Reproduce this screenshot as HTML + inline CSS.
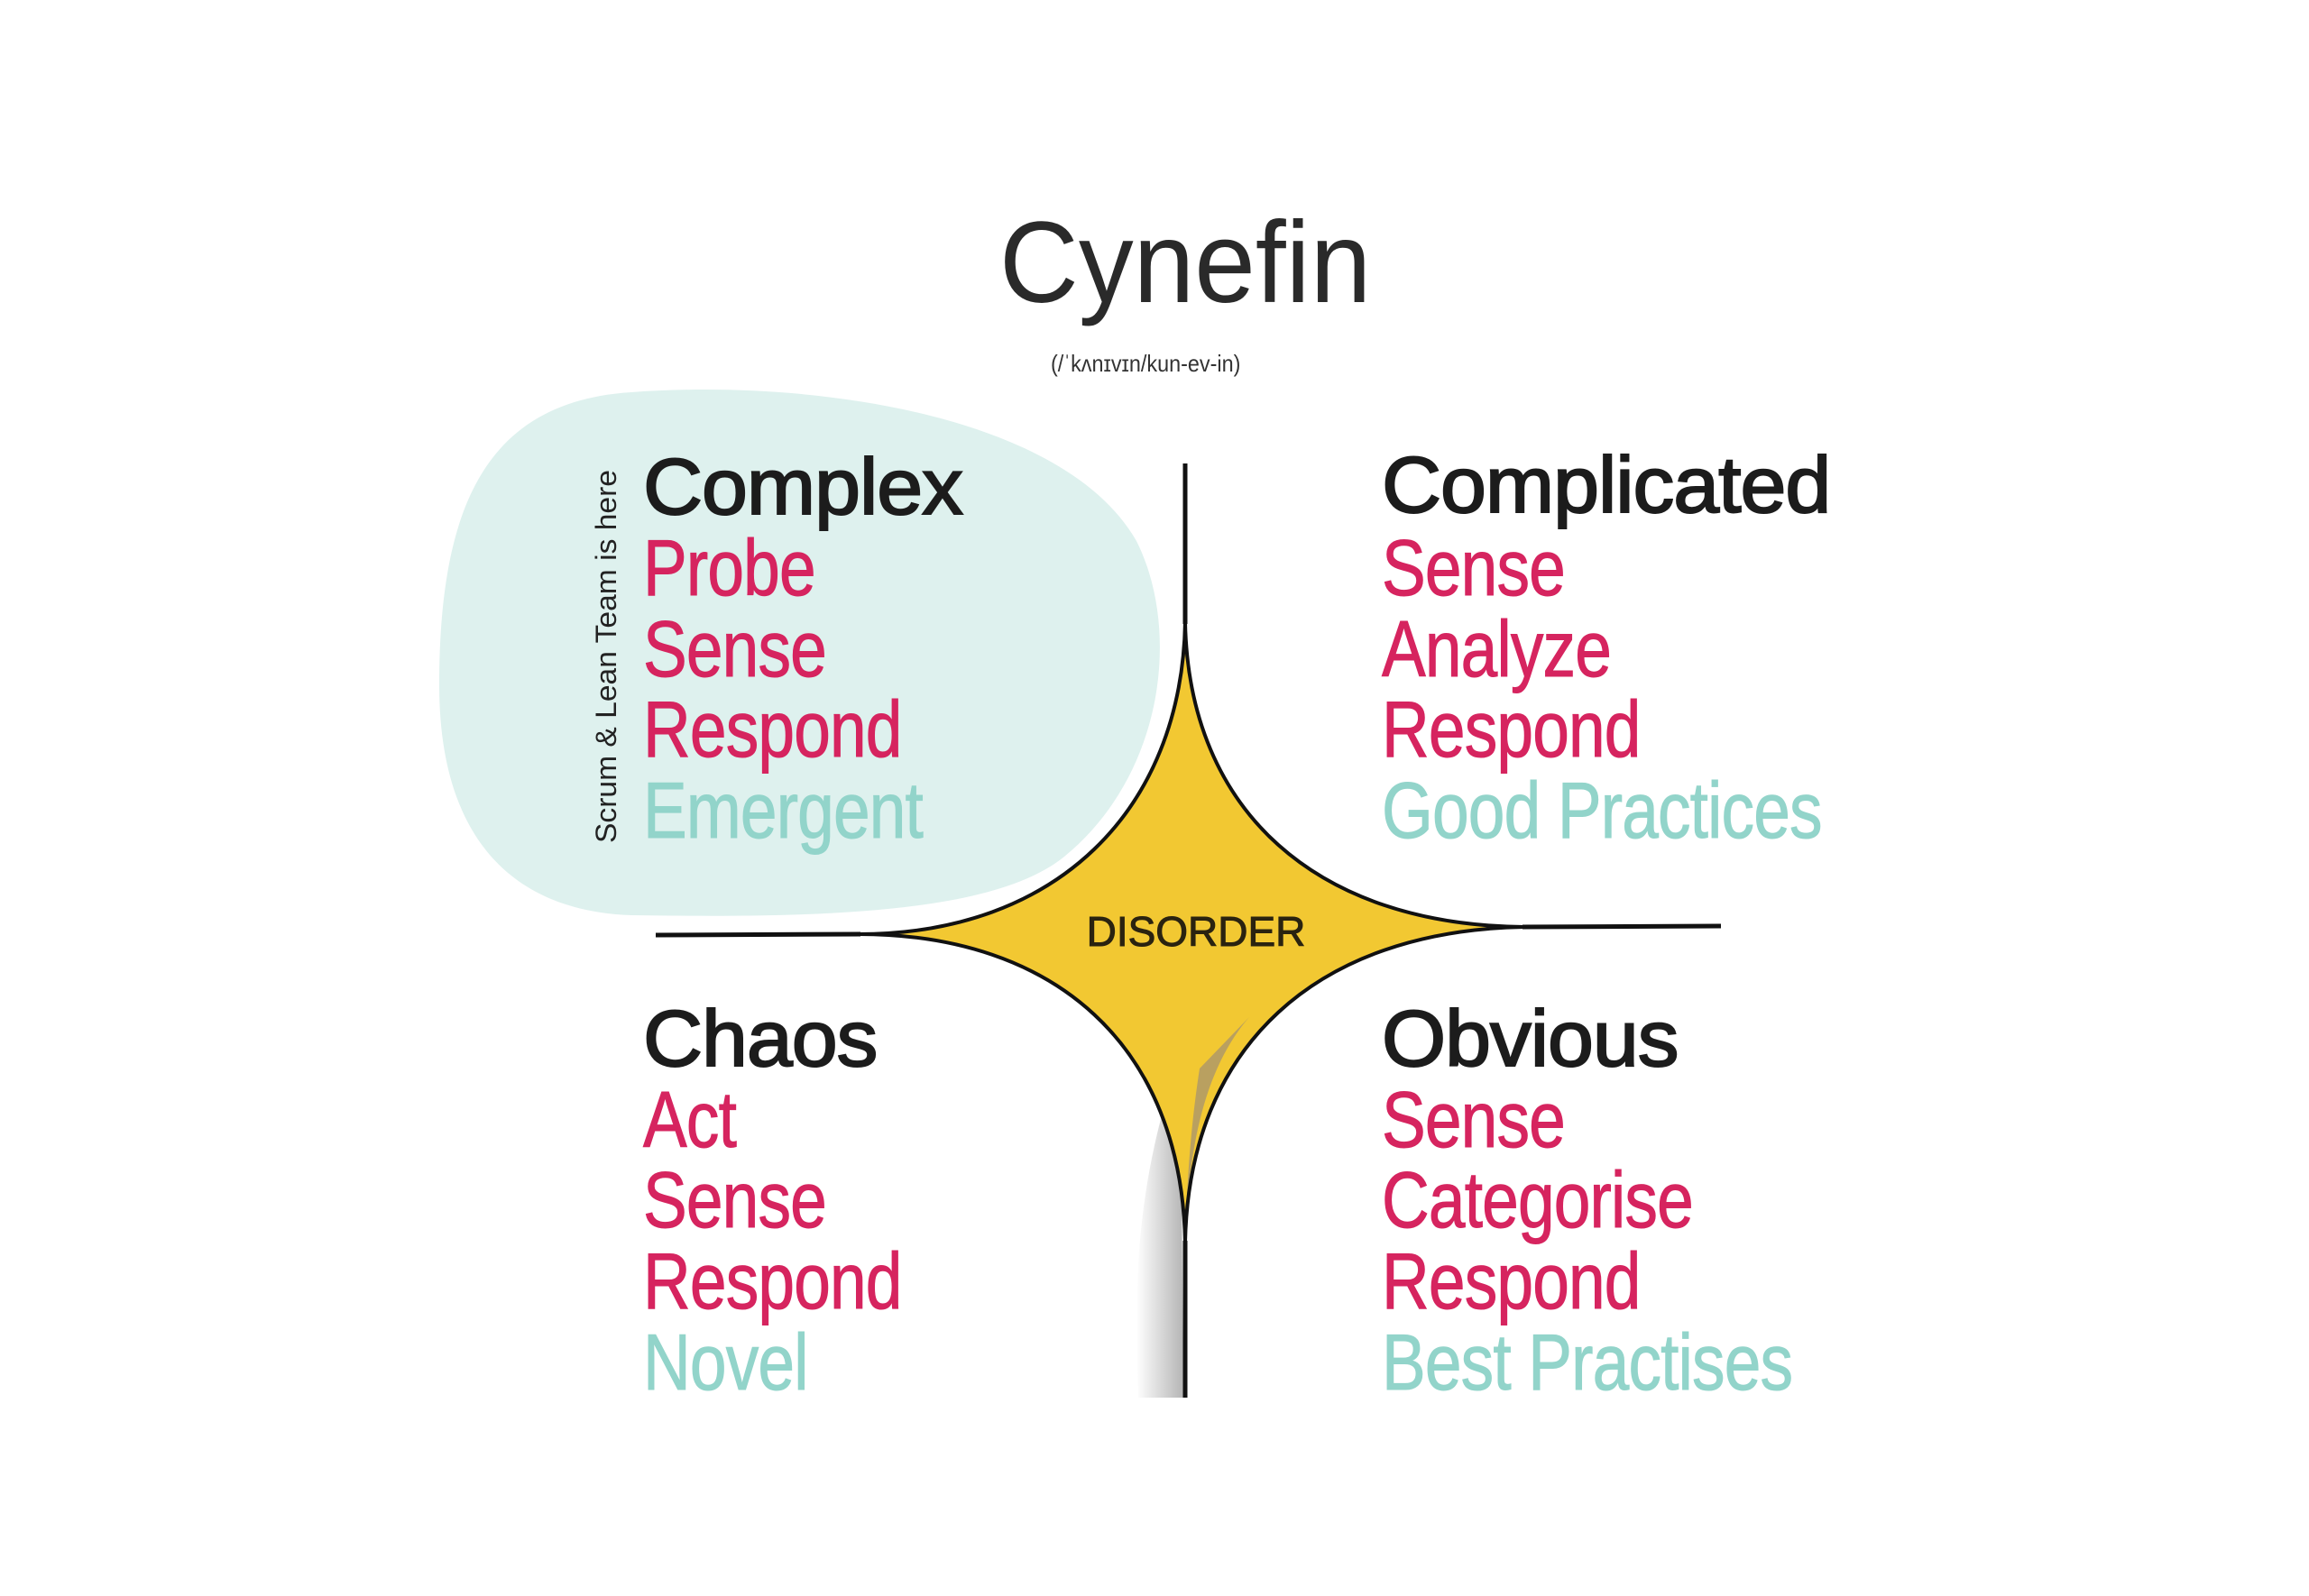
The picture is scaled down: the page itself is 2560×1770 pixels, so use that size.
<!DOCTYPE html>
<html><head><meta charset="utf-8"><style>
html,body{margin:0;padding:0;background:#fff}
body{width:2560px;height:1770px;position:relative;overflow:hidden;font-family:"Liberation Sans",sans-serif}
.t{position:absolute;white-space:nowrap;font-size:88px;line-height:1;letter-spacing:-1px;transform:scaleX(0.83);transform-origin:0 0;-webkit-text-stroke:1px currentColor}
.h{color:#1c1c1c;transform:scaleX(1.04);-webkit-text-stroke:2px #1c1c1c}
.p{color:#d6245f}
.g{color:#92d4ca}
</style></head><body>
<svg width="2560" height="1770" style="position:absolute;left:0;top:0">
<defs>
<linearGradient id="sh" x1="0" x2="1" y1="0" y2="0"><stop offset="0" stop-color="#fff"/><stop offset="1" stop-color="#b5b5b5"/></linearGradient>
</defs>
<path d="M700 435 C900 420 1180 460 1260 600 C1310 700 1290 860 1180 950 C1100 1015 900 1018 700 1015 C560 1010 487 920 487 760 C487 560 540 445 700 435 Z" fill="#def1ee"/>
<path d="M1290 1230 C1265 1320 1255 1420 1262 1550 L1312 1550 L1310 1300 Z" fill="url(#sh)"/>
<path d="M1314 690 C1318 900 1460 1026 1690 1028 C1460 1032 1318 1160 1314 1378 C1310 1160 1170 1036 952 1036 C1170 1036 1310 900 1314 690 Z" fill="#f2c832"/>
<path d="M1385 1128 L1330 1185 C1320 1250 1316 1310 1314 1375 C1318 1260 1340 1180 1385 1128 Z" fill="#b9a060"/>
<path d="M1314 690 C1318 900 1460 1026 1690 1028 C1460 1032 1318 1160 1314 1378 C1310 1160 1170 1036 952 1036 C1170 1036 1310 900 1314 690 Z" fill="none" stroke="#111" stroke-width="4"/>
<line x1="1314" y1="514" x2="1314" y2="692" stroke="#111" stroke-width="5"/>
<line x1="1314" y1="1376" x2="1314" y2="1550" stroke="#111" stroke-width="5"/>
<line x1="727" y1="1037" x2="954" y2="1036" stroke="#111" stroke-width="5"/>
<line x1="1688" y1="1028" x2="1908" y2="1027" stroke="#111" stroke-width="5"/>
<text x="1326" y="1049" text-anchor="middle" font-family="Liberation Sans" font-size="46" fill="#2a2310" stroke="#2a2310" stroke-width="1">DISORDER</text>
</svg>
<div class="t" style="left:1108px;top:228px;font-size:128px;color:#2a2a2a;letter-spacing:0;transform:scaleX(0.95);-webkit-text-stroke:0">Cynefin</div>
<div class="t" style="left:1165px;top:390px;font-size:26px;color:#333;letter-spacing:0;transform:scaleX(0.9);-webkit-text-stroke:0">(/ˈkʌnɪvɪn/kun-ev-in)</div>
<div class="t" style="left:656px;top:935px;font-size:32px;color:#222;transform:rotate(-90deg) scaleX(1.05);transform-origin:0 0;letter-spacing:0;-webkit-text-stroke:0">Scrum &amp; Lean Team is here</div>

<div class="t h" style="left:713px;top:496px">Complex</div>
<div class="t p" style="left:713px;top:586px">Probe</div>
<div class="t p" style="left:713px;top:676px">Sense</div>
<div class="t p" style="left:713px;top:765px">Respond</div>
<div class="t g" style="left:713px;top:855px">Emergent</div>

<div class="t h" style="left:1532px;top:494px">Complicated</div>
<div class="t p" style="left:1532px;top:586px">Sense</div>
<div class="t p" style="left:1532px;top:676px">Analyze</div>
<div class="t p" style="left:1532px;top:765px">Respond</div>
<div class="t g" style="left:1532px;top:855px">Good Practices</div>

<div class="t h" style="left:713px;top:1108px">Chaos</div>
<div class="t p" style="left:713px;top:1198px">Act</div>
<div class="t p" style="left:713px;top:1287px">Sense</div>
<div class="t p" style="left:713px;top:1377px">Respond</div>
<div class="t g" style="left:713px;top:1467px">Novel</div>

<div class="t h" style="left:1532px;top:1108px">Obvious</div>
<div class="t p" style="left:1532px;top:1198px">Sense</div>
<div class="t p" style="left:1532px;top:1287px">Categorise</div>
<div class="t p" style="left:1532px;top:1377px">Respond</div>
<div class="t g" style="left:1532px;top:1467px">Best Practises</div>
</body></html>
